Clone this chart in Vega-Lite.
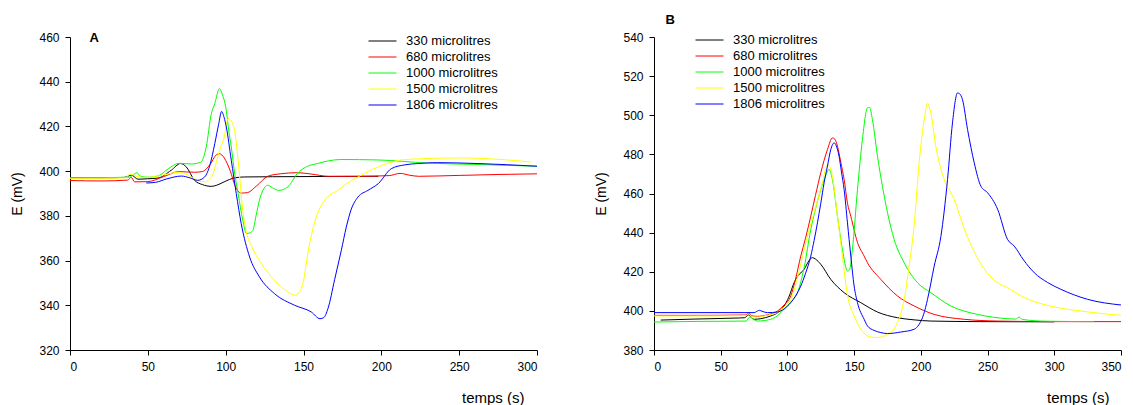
{
  "$schema": "https://vega.github.io/schema/vega-lite/v6.json",
  "padding": {"left": 10, "top": 13, "right": 0, "bottom": 0},
  "background": "white",
  "config": {
    "font": "Liberation Sans",
    "view": {"stroke": null},
    "axis": {"grid": false, "domainColor": "#000", "tickColor": "#000", "labelColor": "#000", "titleColor": "#000", "labelFontSize": 12, "tickSize": 5, "labelPadding": 6, "titleFontWeight": "normal"},
    "legend": {"symbolType": "M-2.8,0H2.8", "symbolSize": 100, "symbolStrokeWidth": 1, "labelFontSize": 13, "labelColor": "#000", "labelOffset": 17, "rowPadding": 2, "padding": 0, "title": null}
  },
  "datasets": {
    "A": [
      {"sA": "330 microlitres", "t": 0, "E": 397},
      {"sA": "330 microlitres", "t": 20, "E": 397},
      {"sA": "330 microlitres", "t": 35, "E": 397.2},
      {"sA": "330 microlitres", "t": 39.4, "E": 398.2},
      {"sA": "330 microlitres", "t": 43.7, "E": 396.4},
      {"sA": "330 microlitres", "t": 50, "E": 396.6},
      {"sA": "330 microlitres", "t": 56.5, "E": 396.9},
      {"sA": "330 microlitres", "t": 65, "E": 400.4},
      {"sA": "330 microlitres", "t": 71, "E": 403.4},
      {"sA": "330 microlitres", "t": 74.7, "E": 401.9},
      {"sA": "330 microlitres", "t": 80, "E": 395.9},
      {"sA": "330 microlitres", "t": 85, "E": 394},
      {"sA": "330 microlitres", "t": 90.7, "E": 393.2},
      {"sA": "330 microlitres", "t": 95, "E": 393.9},
      {"sA": "330 microlitres", "t": 99, "E": 395.2},
      {"sA": "330 microlitres", "t": 105.8, "E": 397},
      {"sA": "330 microlitres", "t": 112, "E": 397.4},
      {"sA": "330 microlitres", "t": 130, "E": 397.5},
      {"sA": "330 microlitres", "t": 160, "E": 397.6},
      {"sA": "330 microlitres", "t": 198, "E": 397.7},

      {"sA": "680 microlitres", "t": 0, "E": 395.8},
      {"sA": "680 microlitres", "t": 20, "E": 395.6},
      {"sA": "680 microlitres", "t": 37, "E": 396},
      {"sA": "680 microlitres", "t": 39.4, "E": 397.2},
      {"sA": "680 microlitres", "t": 41.5, "E": 395.2},
      {"sA": "680 microlitres", "t": 50, "E": 395.3},
      {"sA": "680 microlitres", "t": 60, "E": 397.5},
      {"sA": "680 microlitres", "t": 70, "E": 399.8},
      {"sA": "680 microlitres", "t": 80, "E": 399.5},
      {"sA": "680 microlitres", "t": 85, "E": 399.8},
      {"sA": "680 microlitres", "t": 90, "E": 403},
      {"sA": "680 microlitres", "t": 94, "E": 407.3},
      {"sA": "680 microlitres", "t": 96, "E": 407.8},
      {"sA": "680 microlitres", "t": 99, "E": 406},
      {"sA": "680 microlitres", "t": 103, "E": 400},
      {"sA": "680 microlitres", "t": 106, "E": 393.5},
      {"sA": "680 microlitres", "t": 110, "E": 390.2},
      {"sA": "680 microlitres", "t": 114, "E": 390.4},
      {"sA": "680 microlitres", "t": 120, "E": 393.5},
      {"sA": "680 microlitres", "t": 127, "E": 397.7},
      {"sA": "680 microlitres", "t": 135, "E": 398.8},
      {"sA": "680 microlitres", "t": 146, "E": 399.3},
      {"sA": "680 microlitres", "t": 155, "E": 398.7},
      {"sA": "680 microlitres", "t": 166, "E": 397.7},
      {"sA": "680 microlitres", "t": 185, "E": 397.7},
      {"sA": "680 microlitres", "t": 205, "E": 398},
      {"sA": "680 microlitres", "t": 212, "E": 399},
      {"sA": "680 microlitres", "t": 218, "E": 398.2},
      {"sA": "680 microlitres", "t": 224, "E": 397.7},
      {"sA": "680 microlitres", "t": 250, "E": 398.1},
      {"sA": "680 microlitres", "t": 275, "E": 398.5},
      {"sA": "680 microlitres", "t": 300, "E": 398.8},

      {"sA": "1000 microlitres", "t": 0, "E": 397},
      {"sA": "1000 microlitres", "t": 20, "E": 397.1},
      {"sA": "1000 microlitres", "t": 38, "E": 397.3},
      {"sA": "1000 microlitres", "t": 41, "E": 398.5},
      {"sA": "1000 microlitres", "t": 43, "E": 399.3},
      {"sA": "1000 microlitres", "t": 45, "E": 397.8},
      {"sA": "1000 microlitres", "t": 50, "E": 397.3},
      {"sA": "1000 microlitres", "t": 57, "E": 398},
      {"sA": "1000 microlitres", "t": 63, "E": 401},
      {"sA": "1000 microlitres", "t": 70, "E": 403.5},
      {"sA": "1000 microlitres", "t": 78, "E": 403.2},
      {"sA": "1000 microlitres", "t": 84, "E": 404},
      {"sA": "1000 microlitres", "t": 87.5, "E": 410.8},
      {"sA": "1000 microlitres", "t": 90.8, "E": 425.7},
      {"sA": "1000 microlitres", "t": 93, "E": 430.2},
      {"sA": "1000 microlitres", "t": 96, "E": 436.9},
      {"sA": "1000 microlitres", "t": 98, "E": 434},
      {"sA": "1000 microlitres", "t": 100.4, "E": 427.2},
      {"sA": "1000 microlitres", "t": 102, "E": 418},
      {"sA": "1000 microlitres", "t": 103.6, "E": 410.8},
      {"sA": "1000 microlitres", "t": 106, "E": 398},
      {"sA": "1000 microlitres", "t": 108, "E": 390},
      {"sA": "1000 microlitres", "t": 111, "E": 378},
      {"sA": "1000 microlitres", "t": 113.3, "E": 372.1},
      {"sA": "1000 microlitres", "t": 115.5, "E": 372.4},
      {"sA": "1000 microlitres", "t": 117.5, "E": 373.5},
      {"sA": "1000 microlitres", "t": 119.5, "E": 380},
      {"sA": "1000 microlitres", "t": 121.7, "E": 387},
      {"sA": "1000 microlitres", "t": 124, "E": 391.5},
      {"sA": "1000 microlitres", "t": 127, "E": 393.7},
      {"sA": "1000 microlitres", "t": 130, "E": 392.6},
      {"sA": "1000 microlitres", "t": 134, "E": 391.4},
      {"sA": "1000 microlitres", "t": 140, "E": 393},
      {"sA": "1000 microlitres", "t": 146, "E": 398.9},
      {"sA": "1000 microlitres", "t": 152, "E": 402},
      {"sA": "1000 microlitres", "t": 159, "E": 403.4},
      {"sA": "1000 microlitres", "t": 166, "E": 404.6},
      {"sA": "1000 microlitres", "t": 174, "E": 405.2},
      {"sA": "1000 microlitres", "t": 198, "E": 405},
      {"sA": "1000 microlitres", "t": 230, "E": 403.6},
      {"sA": "1000 microlitres", "t": 260, "E": 403},
      {"sA": "1000 microlitres", "t": 300, "E": 402.2},

      {"sA": "1500 microlitres", "t": 0, "E": 396.8},
      {"sA": "1500 microlitres", "t": 20, "E": 396.8},
      {"sA": "1500 microlitres", "t": 36, "E": 397},
      {"sA": "1500 microlitres", "t": 38, "E": 398.5},
      {"sA": "1500 microlitres", "t": 40, "E": 398.6},
      {"sA": "1500 microlitres", "t": 43, "E": 397.5},
      {"sA": "1500 microlitres", "t": 50, "E": 397.2},
      {"sA": "1500 microlitres", "t": 60, "E": 398.3},
      {"sA": "1500 microlitres", "t": 70, "E": 399.5},
      {"sA": "1500 microlitres", "t": 76, "E": 398.1},
      {"sA": "1500 microlitres", "t": 82, "E": 395.8},
      {"sA": "1500 microlitres", "t": 86.5, "E": 395.2},
      {"sA": "1500 microlitres", "t": 89, "E": 396},
      {"sA": "1500 microlitres", "t": 92, "E": 398.9},
      {"sA": "1500 microlitres", "t": 94, "E": 404},
      {"sA": "1500 microlitres", "t": 96, "E": 409.3},
      {"sA": "1500 microlitres", "t": 99, "E": 415},
      {"sA": "1500 microlitres", "t": 101.5, "E": 423.5},
      {"sA": "1500 microlitres", "t": 103, "E": 423},
      {"sA": "1500 microlitres", "t": 105.7, "E": 418.3},
      {"sA": "1500 microlitres", "t": 108, "E": 404.9},
      {"sA": "1500 microlitres", "t": 111, "E": 382.5},
      {"sA": "1500 microlitres", "t": 113.5, "E": 372},
      {"sA": "1500 microlitres", "t": 116.4, "E": 366.8},
      {"sA": "1500 microlitres", "t": 122.9, "E": 358.7},
      {"sA": "1500 microlitres", "t": 131.4, "E": 351.2},
      {"sA": "1500 microlitres", "t": 140, "E": 346},
      {"sA": "1500 microlitres", "t": 144.3, "E": 344.5},
      {"sA": "1500 microlitres", "t": 147, "E": 345.5},
      {"sA": "1500 microlitres", "t": 149.6, "E": 349.7},
      {"sA": "1500 microlitres", "t": 153.5, "E": 366.1},
      {"sA": "1500 microlitres", "t": 158.2, "E": 379.5},
      {"sA": "1500 microlitres", "t": 163.6, "E": 387},
      {"sA": "1500 microlitres", "t": 172, "E": 391.4},
      {"sA": "1500 microlitres", "t": 178, "E": 394.5},
      {"sA": "1500 microlitres", "t": 185, "E": 397.4},
      {"sA": "1500 microlitres", "t": 198, "E": 401.9},
      {"sA": "1500 microlitres", "t": 215, "E": 405.2},
      {"sA": "1500 microlitres", "t": 251, "E": 405.9},
      {"sA": "1500 microlitres", "t": 283, "E": 404.9},
      {"sA": "1500 microlitres", "t": 296, "E": 404.1},

      {"sA": "1806 microlitres", "t": 49, "E": 394.7},
      {"sA": "1806 microlitres", "t": 55, "E": 395},
      {"sA": "1806 microlitres", "t": 62, "E": 396.5},
      {"sA": "1806 microlitres", "t": 71.5, "E": 397.8},
      {"sA": "1806 microlitres", "t": 77, "E": 397},
      {"sA": "1806 microlitres", "t": 82, "E": 395.9},
      {"sA": "1806 microlitres", "t": 86.5, "E": 397.4},
      {"sA": "1806 microlitres", "t": 90, "E": 403},
      {"sA": "1806 microlitres", "t": 93, "E": 412.3},
      {"sA": "1806 microlitres", "t": 95.5, "E": 421},
      {"sA": "1806 microlitres", "t": 97.4, "E": 426.7},
      {"sA": "1806 microlitres", "t": 99, "E": 424},
      {"sA": "1806 microlitres", "t": 100.4, "E": 419.8},
      {"sA": "1806 microlitres", "t": 103.6, "E": 404.9},
      {"sA": "1806 microlitres", "t": 106.8, "E": 390},
      {"sA": "1806 microlitres", "t": 110, "E": 376.5},
      {"sA": "1806 microlitres", "t": 115.4, "E": 361.6},
      {"sA": "1806 microlitres", "t": 121.7, "E": 352.7},
      {"sA": "1806 microlitres", "t": 131.4, "E": 345.2},
      {"sA": "1806 microlitres", "t": 144.3, "E": 340},
      {"sA": "1806 microlitres", "t": 155, "E": 337},
      {"sA": "1806 microlitres", "t": 160.6, "E": 334},
      {"sA": "1806 microlitres", "t": 163, "E": 334.5},
      {"sA": "1806 microlitres", "t": 165.7, "E": 338.5},
      {"sA": "1806 microlitres", "t": 170, "E": 351.5},
      {"sA": "1806 microlitres", "t": 174.3, "E": 364.6},
      {"sA": "1806 microlitres", "t": 177.5, "E": 375},
      {"sA": "1806 microlitres", "t": 180.7, "E": 383},
      {"sA": "1806 microlitres", "t": 185, "E": 388.4},
      {"sA": "1806 microlitres", "t": 191.4, "E": 391.4},
      {"sA": "1806 microlitres", "t": 198, "E": 394.4},
      {"sA": "1806 microlitres", "t": 206.4, "E": 401.1},
      {"sA": "1806 microlitres", "t": 215, "E": 402.8},
      {"sA": "1806 microlitres", "t": 223.5, "E": 403.4},
      {"sA": "1806 microlitres", "t": 236, "E": 403.8},
      {"sA": "1806 microlitres", "t": 262, "E": 403.4},
      {"sA": "1806 microlitres", "t": 300, "E": 402.2}
    ],
    "B": [
      {"sB": "330 microlitres", "t": 5, "E": 395.3},
      {"sB": "330 microlitres", "t": 30, "E": 395.8},
      {"sB": "330 microlitres", "t": 60, "E": 396.3},
      {"sB": "330 microlitres", "t": 68, "E": 396.5},
      {"sB": "330 microlitres", "t": 71, "E": 398},
      {"sB": "330 microlitres", "t": 73, "E": 396.5},
      {"sB": "330 microlitres", "t": 75, "E": 395.7},
      {"sB": "330 microlitres", "t": 80, "E": 396},
      {"sB": "330 microlitres", "t": 87.5, "E": 397.4},
      {"sB": "330 microlitres", "t": 92.5, "E": 399},
      {"sB": "330 microlitres", "t": 97.5, "E": 402.5},
      {"sB": "330 microlitres", "t": 101, "E": 407},
      {"sB": "330 microlitres", "t": 105, "E": 414.4},
      {"sB": "330 microlitres", "t": 108, "E": 418},
      {"sB": "330 microlitres", "t": 112.5, "E": 421.2},
      {"sB": "330 microlitres", "t": 116, "E": 425.5},
      {"sB": "330 microlitres", "t": 118.7, "E": 427.2},
      {"sB": "330 microlitres", "t": 121, "E": 426.5},
      {"sB": "330 microlitres", "t": 125, "E": 423.8},
      {"sB": "330 microlitres", "t": 132.5, "E": 416.1},
      {"sB": "330 microlitres", "t": 142.5, "E": 409.3},
      {"sB": "330 microlitres", "t": 155, "E": 404.2},
      {"sB": "330 microlitres", "t": 167.5, "E": 399.4},
      {"sB": "330 microlitres", "t": 182.5, "E": 396.5},
      {"sB": "330 microlitres", "t": 195, "E": 395.4},
      {"sB": "330 microlitres", "t": 207.5, "E": 394.8},
      {"sB": "330 microlitres", "t": 245, "E": 394.5},
      {"sB": "330 microlitres", "t": 300, "E": 394.4},

      {"sB": "680 microlitres", "t": 0, "E": 397.7},
      {"sB": "680 microlitres", "t": 30, "E": 397.7},
      {"sB": "680 microlitres", "t": 69, "E": 397.9},
      {"sB": "680 microlitres", "t": 71, "E": 399},
      {"sB": "680 microlitres", "t": 73, "E": 397.5},
      {"sB": "680 microlitres", "t": 77.5, "E": 397.2},
      {"sB": "680 microlitres", "t": 85, "E": 398},
      {"sB": "680 microlitres", "t": 92.5, "E": 399.9},
      {"sB": "680 microlitres", "t": 97.5, "E": 403},
      {"sB": "680 microlitres", "t": 102.5, "E": 407.6},
      {"sB": "680 microlitres", "t": 106, "E": 416},
      {"sB": "680 microlitres", "t": 110, "E": 428},
      {"sB": "680 microlitres", "t": 113.5, "E": 437},
      {"sB": "680 microlitres", "t": 117.5, "E": 448.4},
      {"sB": "680 microlitres", "t": 121, "E": 459},
      {"sB": "680 microlitres", "t": 125, "E": 470.6},
      {"sB": "680 microlitres", "t": 130, "E": 482.5},
      {"sB": "680 microlitres", "t": 133.7, "E": 488.4},
      {"sB": "680 microlitres", "t": 135.5, "E": 487.8},
      {"sB": "680 microlitres", "t": 137.5, "E": 484.2},
      {"sB": "680 microlitres", "t": 140, "E": 476},
      {"sB": "680 microlitres", "t": 142.5, "E": 467.2},
      {"sB": "680 microlitres", "t": 145, "E": 455},
      {"sB": "680 microlitres", "t": 147.5, "E": 448.4},
      {"sB": "680 microlitres", "t": 152.5, "E": 435},
      {"sB": "680 microlitres", "t": 157.5, "E": 428},
      {"sB": "680 microlitres", "t": 160, "E": 424.6},
      {"sB": "680 microlitres", "t": 170, "E": 416.1},
      {"sB": "680 microlitres", "t": 182.5, "E": 407.6},
      {"sB": "680 microlitres", "t": 195, "E": 402.5},
      {"sB": "680 microlitres", "t": 210, "E": 398.2},
      {"sB": "680 microlitres", "t": 232.5, "E": 395.7},
      {"sB": "680 microlitres", "t": 257.5, "E": 394.8},
      {"sB": "680 microlitres", "t": 300, "E": 394.5},
      {"sB": "680 microlitres", "t": 350, "E": 394.5},

      {"sB": "1000 microlitres", "t": 0, "E": 394.3},
      {"sB": "1000 microlitres", "t": 30, "E": 394.6},
      {"sB": "1000 microlitres", "t": 69, "E": 394.8},
      {"sB": "1000 microlitres", "t": 72, "E": 397},
      {"sB": "1000 microlitres", "t": 75, "E": 395.5},
      {"sB": "1000 microlitres", "t": 77.5, "E": 394.8},
      {"sB": "1000 microlitres", "t": 87.5, "E": 395.7},
      {"sB": "1000 microlitres", "t": 92.5, "E": 397.5},
      {"sB": "1000 microlitres", "t": 97.5, "E": 400.8},
      {"sB": "1000 microlitres", "t": 102.5, "E": 404.5},
      {"sB": "1000 microlitres", "t": 107.5, "E": 409.3},
      {"sB": "1000 microlitres", "t": 112.5, "E": 422},
      {"sB": "1000 microlitres", "t": 117.5, "E": 441.6},
      {"sB": "1000 microlitres", "t": 121, "E": 452},
      {"sB": "1000 microlitres", "t": 125, "E": 462},
      {"sB": "1000 microlitres", "t": 128, "E": 468},
      {"sB": "1000 microlitres", "t": 131.2, "E": 472.3},
      {"sB": "1000 microlitres", "t": 133.7, "E": 467.2},
      {"sB": "1000 microlitres", "t": 137.5, "E": 448.4},
      {"sB": "1000 microlitres", "t": 141.2, "E": 431.4},
      {"sB": "1000 microlitres", "t": 145, "E": 420.4},
      {"sB": "1000 microlitres", "t": 146.5, "E": 421},
      {"sB": "1000 microlitres", "t": 148.7, "E": 431.4},
      {"sB": "1000 microlitres", "t": 152.5, "E": 462},
      {"sB": "1000 microlitres", "t": 156.2, "E": 487.6},
      {"sB": "1000 microlitres", "t": 160, "E": 503.8},
      {"sB": "1000 microlitres", "t": 161.5, "E": 504},
      {"sB": "1000 microlitres", "t": 163.7, "E": 497.8},
      {"sB": "1000 microlitres", "t": 167.5, "E": 479},
      {"sB": "1000 microlitres", "t": 171.2, "E": 463.7},
      {"sB": "1000 microlitres", "t": 175, "E": 450.2},
      {"sB": "1000 microlitres", "t": 180, "E": 436.5},
      {"sB": "1000 microlitres", "t": 187.5, "E": 424.6},
      {"sB": "1000 microlitres", "t": 197.5, "E": 414.4},
      {"sB": "1000 microlitres", "t": 207.5, "E": 409.3},
      {"sB": "1000 microlitres", "t": 222.5, "E": 402.5},
      {"sB": "1000 microlitres", "t": 242.5, "E": 398.2},
      {"sB": "1000 microlitres", "t": 265, "E": 396},
      {"sB": "1000 microlitres", "t": 271, "E": 395.8},
      {"sB": "1000 microlitres", "t": 273.7, "E": 396.8},
      {"sB": "1000 microlitres", "t": 276, "E": 395.6},
      {"sB": "1000 microlitres", "t": 295, "E": 394.7},
      {"sB": "1000 microlitres", "t": 330, "E": 394.5},

      {"sB": "1500 microlitres", "t": 0, "E": 397.4},
      {"sB": "1500 microlitres", "t": 30, "E": 397.4},
      {"sB": "1500 microlitres", "t": 69, "E": 397.6},
      {"sB": "1500 microlitres", "t": 71, "E": 398.5},
      {"sB": "1500 microlitres", "t": 73, "E": 397},
      {"sB": "1500 microlitres", "t": 77.5, "E": 396.8},
      {"sB": "1500 microlitres", "t": 85, "E": 397.8},
      {"sB": "1500 microlitres", "t": 92.5, "E": 399.1},
      {"sB": "1500 microlitres", "t": 97.5, "E": 402},
      {"sB": "1500 microlitres", "t": 102.5, "E": 405.9},
      {"sB": "1500 microlitres", "t": 107.5, "E": 417},
      {"sB": "1500 microlitres", "t": 112.5, "E": 431.4},
      {"sB": "1500 microlitres", "t": 116, "E": 441},
      {"sB": "1500 microlitres", "t": 120, "E": 450.2},
      {"sB": "1500 microlitres", "t": 126.2, "E": 465.5},
      {"sB": "1500 microlitres", "t": 130, "E": 474.8},
      {"sB": "1500 microlitres", "t": 131.5, "E": 474},
      {"sB": "1500 microlitres", "t": 133.7, "E": 468.8},
      {"sB": "1500 microlitres", "t": 137.5, "E": 448.4},
      {"sB": "1500 microlitres", "t": 141.2, "E": 428},
      {"sB": "1500 microlitres", "t": 145, "E": 408},
      {"sB": "1500 microlitres", "t": 150, "E": 397.4},
      {"sB": "1500 microlitres", "t": 155, "E": 390.6},
      {"sB": "1500 microlitres", "t": 160, "E": 387.2},
      {"sB": "1500 microlitres", "t": 163.7, "E": 386.5},
      {"sB": "1500 microlitres", "t": 167.5, "E": 386.4},
      {"sB": "1500 microlitres", "t": 175, "E": 388},
      {"sB": "1500 microlitres", "t": 182.5, "E": 394},
      {"sB": "1500 microlitres", "t": 187.5, "E": 405.9},
      {"sB": "1500 microlitres", "t": 191.2, "E": 422.9},
      {"sB": "1500 microlitres", "t": 195, "E": 444},
      {"sB": "1500 microlitres", "t": 198.7, "E": 475.7},
      {"sB": "1500 microlitres", "t": 202.5, "E": 497.8},
      {"sB": "1500 microlitres", "t": 205, "E": 506},
      {"sB": "1500 microlitres", "t": 207.5, "E": 501.2},
      {"sB": "1500 microlitres", "t": 211.2, "E": 484.2},
      {"sB": "1500 microlitres", "t": 217.5, "E": 467.2},
      {"sB": "1500 microlitres", "t": 225, "E": 456.9},
      {"sB": "1500 microlitres", "t": 232.5, "E": 442},
      {"sB": "1500 microlitres", "t": 245, "E": 424},
      {"sB": "1500 microlitres", "t": 257.5, "E": 414.4},
      {"sB": "1500 microlitres", "t": 265, "E": 411.9},
      {"sB": "1500 microlitres", "t": 275, "E": 407.6},
      {"sB": "1500 microlitres", "t": 295, "E": 402.8},
      {"sB": "1500 microlitres", "t": 320, "E": 399.9},
      {"sB": "1500 microlitres", "t": 350, "E": 397.7},

      {"sB": "1806 microlitres", "t": 0, "E": 399.1},
      {"sB": "1806 microlitres", "t": 30, "E": 399.1},
      {"sB": "1806 microlitres", "t": 75, "E": 399.1},
      {"sB": "1806 microlitres", "t": 77.5, "E": 399.9},
      {"sB": "1806 microlitres", "t": 79, "E": 400.3},
      {"sB": "1806 microlitres", "t": 81, "E": 399.8},
      {"sB": "1806 microlitres", "t": 85, "E": 399.1},
      {"sB": "1806 microlitres", "t": 92.5, "E": 399.4},
      {"sB": "1806 microlitres", "t": 97.5, "E": 401},
      {"sB": "1806 microlitres", "t": 102.5, "E": 404.2},
      {"sB": "1806 microlitres", "t": 106, "E": 407.5},
      {"sB": "1806 microlitres", "t": 110, "E": 412.7},
      {"sB": "1806 microlitres", "t": 113.5, "E": 419},
      {"sB": "1806 microlitres", "t": 117.5, "E": 428},
      {"sB": "1806 microlitres", "t": 120, "E": 436},
      {"sB": "1806 microlitres", "t": 122.5, "E": 445},
      {"sB": "1806 microlitres", "t": 125, "E": 455},
      {"sB": "1806 microlitres", "t": 127.5, "E": 465.5},
      {"sB": "1806 microlitres", "t": 130, "E": 474},
      {"sB": "1806 microlitres", "t": 132.5, "E": 482.5},
      {"sB": "1806 microlitres", "t": 135, "E": 485.9},
      {"sB": "1806 microlitres", "t": 136.5, "E": 484.5},
      {"sB": "1806 microlitres", "t": 138.7, "E": 479},
      {"sB": "1806 microlitres", "t": 140.5, "E": 471},
      {"sB": "1806 microlitres", "t": 142.5, "E": 462},
      {"sB": "1806 microlitres", "t": 145, "E": 445},
      {"sB": "1806 microlitres", "t": 147.5, "E": 428},
      {"sB": "1806 microlitres", "t": 150, "E": 412.7},
      {"sB": "1806 microlitres", "t": 152.5, "E": 404.2},
      {"sB": "1806 microlitres", "t": 157.5, "E": 395.7},
      {"sB": "1806 microlitres", "t": 160, "E": 392.3},
      {"sB": "1806 microlitres", "t": 165, "E": 390},
      {"sB": "1806 microlitres", "t": 170, "E": 388.9},
      {"sB": "1806 microlitres", "t": 175, "E": 388.4},
      {"sB": "1806 microlitres", "t": 185, "E": 389.2},
      {"sB": "1806 microlitres", "t": 195, "E": 390.6},
      {"sB": "1806 microlitres", "t": 198.7, "E": 393.1},
      {"sB": "1806 microlitres", "t": 202, "E": 398},
      {"sB": "1806 microlitres", "t": 205, "E": 405.9},
      {"sB": "1806 microlitres", "t": 210, "E": 422.9},
      {"sB": "1806 microlitres", "t": 215, "E": 438},
      {"sB": "1806 microlitres", "t": 220, "E": 467.2},
      {"sB": "1806 microlitres", "t": 223.7, "E": 496.1},
      {"sB": "1806 microlitres", "t": 227.5, "E": 511.4},
      {"sB": "1806 microlitres", "t": 229, "E": 511},
      {"sB": "1806 microlitres", "t": 231.2, "E": 508},
      {"sB": "1806 microlitres", "t": 235, "E": 492.7},
      {"sB": "1806 microlitres", "t": 240, "E": 475.7},
      {"sB": "1806 microlitres", "t": 245, "E": 463.7},
      {"sB": "1806 microlitres", "t": 250, "E": 460.4},
      {"sB": "1806 microlitres", "t": 257.5, "E": 452},
      {"sB": "1806 microlitres", "t": 265, "E": 436.5},
      {"sB": "1806 microlitres", "t": 270, "E": 433.1},
      {"sB": "1806 microlitres", "t": 277, "E": 426},
      {"sB": "1806 microlitres", "t": 285, "E": 419.5},
      {"sB": "1806 microlitres", "t": 295, "E": 414.5},
      {"sB": "1806 microlitres", "t": 305, "E": 411},
      {"sB": "1806 microlitres", "t": 325, "E": 405.9},
      {"sB": "1806 microlitres", "t": 350, "E": 403}
    ]
  },
  "resolve": {"scale": {"color": "independent", "x": "independent", "y": "independent"}, "legend": {"color": "independent"}},
  "spacing": 55,
  "hconcat": [
    {
      "width": 467, "height": 313,
      "encoding": {
        "x": {"field": "t", "type": "quantitative", "scale": {"domain": [0, 300], "nice": false, "zero": false},
              "axis": {"values": [0, 50, 100, 150, 200, 250, 300], "title": "temps (s)", "titleFontSize": 15, "titleAlign": "right", "titleAnchor": null, "titleX": 454, "titleY": 52, "titleBaseline": "alphabetic"}},
        "y": {"field": "E", "type": "quantitative", "scale": {"domain": [320, 460], "nice": false, "zero": false},
              "axis": {"values": [320, 340, 360, 380, 400, 420, 440, 460], "title": "E (mV)", "titleFontSize": 14, "titlePadding": 14}}
      },
      "layer": [
        {
          "data": {"name": "A"},
          "mark": {"type": "line", "strokeWidth": 1, "interpolate": "monotone"},
          "encoding": {
            "color": {"field": "sA", "type": "nominal",
                      "scale": {"domain": ["330 microlitres", "680 microlitres", "1000 microlitres", "1500 microlitres", "1806 microlitres"], "range": ["#000000", "#ff0000", "#00ff00", "#ffff00", "#0000ff"]},
                      "legend": {"orient": "none", "legendX": 306, "legendY": -2.5}}
          }
        },
        {
          "data": {"values": [{"panel": "A", "t": 12.6, "E": 457.8}]},
          "mark": {"type": "text", "fontSize": 13, "fontWeight": "bold", "align": "left", "baseline": "alphabetic", "color": "#000"},
          "encoding": {"text": {"field": "panel"}}
        }
      ]
    },
    {
      "width": 467, "height": 313,
      "encoding": {
        "x": {"field": "t", "type": "quantitative", "scale": {"domain": [0, 350], "nice": false, "zero": false},
              "axis": {"values": [0, 50, 100, 150, 200, 250, 300, 350], "title": "temps (s)", "titleFontSize": 15, "titleAlign": "right", "titleAnchor": null, "titleX": 455, "titleY": 52, "titleBaseline": "alphabetic"}},
        "y": {"field": "E", "type": "quantitative", "scale": {"domain": [380, 540], "nice": false, "zero": false},
              "axis": {"values": [380, 400, 420, 440, 460, 480, 500, 520, 540], "title": "E (mV)", "titleFontSize": 14, "titlePadding": 14}}
      },
      "layer": [
        {
          "data": {"name": "B"},
          "mark": {"type": "line", "strokeWidth": 1, "interpolate": "monotone"},
          "encoding": {
            "color": {"field": "sB", "type": "nominal",
                      "scale": {"domain": ["330 microlitres", "680 microlitres", "1000 microlitres", "1500 microlitres", "1806 microlitres"], "range": ["#000000", "#ff0000", "#00ff00", "#ffff00", "#0000ff"]},
                      "legend": {"orient": "none", "legendX": 49, "legendY": -3.5}}
          }
        },
        {
          "data": {"values": [{"panel": "B", "t": 8.7, "E": 546.8}]},
          "mark": {"type": "text", "fontSize": 13, "fontWeight": "bold", "align": "left", "baseline": "alphabetic", "color": "#000"},
          "encoding": {"text": {"field": "panel"}}
        }
      ]
    }
  ]
}
